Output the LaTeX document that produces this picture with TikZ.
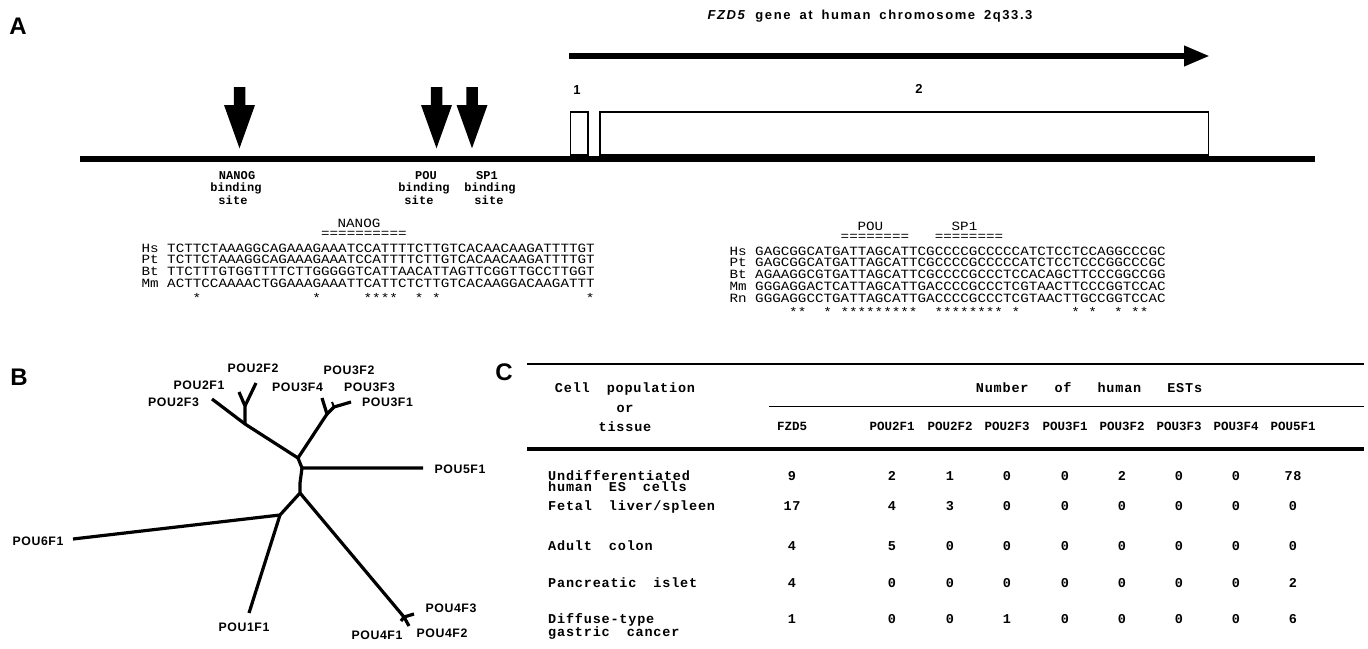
\documentclass[tikz,border=0pt]{standalone}
\usepackage{fontspec}
\usetikzlibrary{arrows.meta}
\setmainfont{Liberation Sans}
\newfontfamily\titlef[LetterSpace=12]{Liberation Sans}
\newfontfamily\treef[LetterSpace=5]{Liberation Sans}
\newfontfamily\seqf[FakeStretch=1.131]{Liberation Mono}
\newfontfamily\tabf[LetterSpace=6]{Liberation Mono}
\newfontfamily\tabhf{Liberation Mono}
\newfontfamily\bindf[LetterSpace=1]{Liberation Mono}
\newcommand\wsp{\hspace{17pt}}
\newcommand\wspb{\hspace{26pt}}
\newcommand\tsp{\hspace{9pt}}
\newcommand\barrow[1]{\fill[shift={(#1,0)}] (-5.75,87) -- (5.75,87) -- (5.75,105) -- (15.5,105) -- (0,148.3) -- (-15.5,105) -- (-5.75,105) -- cycle;}
\tikzset{
  panel/.style={font=\bfseries\fontsize{24}{24}\selectfont, inner sep=0pt},
  ttl/.style={font=\titlef\bfseries\fontsize{13}{14}\selectfont, inner sep=0pt},
  exlbl/.style={font=\bfseries\fontsize{13}{14}\selectfont, inner sep=0pt},
  exon/.style={draw, line width=1.4pt, fill=white, inner sep=0pt},
  seq/.style={font=\seqf\fontsize{12.6}{13}\selectfont, inner sep=0pt, anchor=base west},
  seqc/.style={font=\seqf\fontsize{12.6}{13}\selectfont, inner sep=0pt, anchor=base},
  bind/.style={font=\bindf\bfseries\fontsize{12}{12}\selectfont, inner sep=0pt, anchor=base},
  tree/.style={line width=3.2pt, line join=round},
  tlab/.style={font=\treef\bfseries\fontsize{12.3}{13}\selectfont, inner sep=0pt},
  tab/.style={font=\tabf\bfseries\fontsize{13.5}{14}\selectfont, inner sep=0pt},
  tabh/.style={font=\tabhf\bfseries\fontsize{12.5}{13}\selectfont, inner sep=0pt, anchor=base}
}
\begin{document}
\begin{tikzpicture}[x=1pt,y=-1pt]
\path[use as bounding box, fill=white] (0,0) rectangle (1368,648);

% ---------------- Panel A ----------------
\node[panel] (labA) at (18,26) {A};
\node[ttl] (title) at (870,16) {\textit{FZD5}\tsp gene\tsp at\tsp human\tsp chromosome\tsp 2q33.3};
\coordinate (arrS) at (569,56);
\coordinate (arrE) at (1210,56);
\draw[line width=6.5pt, -{Triangle[length=26pt,width=19pt]}] (arrS) -- (arrE);

\node[exon, minimum width=17.5pt, minimum height=43pt] (ex1) at (579.25,133.5) {};
\node[exon, minimum width=608.5pt, minimum height=43pt] (ex2) at (904.25,133.5) {};
\node[exlbl] (e1) at (577,90) {1};
\node[exlbl] (e2) at (919,89) {2};
\coordinate (gS) at (80,158.5);
\coordinate (gE) at (1315,158.5);
\draw[line width=6pt] (gS) -- (gE);

\barrow{239.5}
\barrow{436.5}
\barrow{472}

\node[bind] (nb1) at (237,179) {NANOG};
\node[bind] (nb2) at (236,191.5) {binding};
\node[bind] (nb3) at (233,204) {site};
\node[bind] (pb1) at (426,179) {POU};
\node[bind] (pb2) at (424,191.5) {binding};
\node[bind] (pb3) at (419,204) {site};
\node[bind] (sb1) at (487,179) {SP1};
\node[bind] (sb2) at (490,191.5) {binding};
\node[bind] (sb3) at (489,204) {site};

% left alignment (x0 = 167, w = 8.55)
\node[seqc] (nanogL) at (359,227.5) {NANOG};
\node[seq] (nanogEq) at (320.9,237.8) {==========};
\node[seq] (spL1) at (141.35,252.2) {Hs};
\node[seq] (spL2) at (141.35,263.9) {Pt};
\node[seq] (spL3) at (141.35,275.6) {Bt};
\node[seq] (spL4) at (141.35,287.3) {Mm};
\node[seq] (sqL1) at (167,252.2) {TCTTCTAAAGGCAGAAAGAAATCCATTTTCTTGTCACAACAAGATTTTGT};
\node[seq] (sqL2) at (167,263.9) {TCTTCTAAAGGCAGAAAGAAATCCATTTTCTTGTCACAACAAGATTTTGT};
\node[seq] (sqL3) at (167,275.6) {TTCTTTGTGGTTTTCTTGGGGGTCATTAACATTAGTTCGGTTGCCTTGGT};
\node[seq] (sqL4) at (167,287.3) {ACTTCCAAAACTGGAAAGAAATTCATTCTCTTGTCACAAGGACAAGATTT};
\foreach \c in {4,18,24,25,26,27,30,32,50}
  \node[seqc] (stL\c) at ({167+(\c-0.5)*8.55},302) {*};

% right alignment (x0 = 755)
\node[seqc] (pouR) at (870.4,230.2) {POU};
\node[seqc] (sp1R) at (964.5,230.2) {SP1};
\node[seq] (pouEq) at (840.5,240.3) {========};
\node[seq] (sp1Eq) at (934.55,240.3) {========};
\node[seq] (spR1) at (729.35,255.2) {Hs};
\node[seq] (spR2) at (729.35,266.9) {Pt};
\node[seq] (spR3) at (729.35,278.6) {Bt};
\node[seq] (spR4) at (729.35,290.3) {Mm};
\node[seq] (spR5) at (729.35,302.0) {Rn};
\node[seq] (sqR1) at (755,255.2) {GAGCGGCATGATTAGCATTCGCCCCGCCCCCATCTCCTCCAGGCCCGC};
\node[seq] (sqR2) at (755,266.9) {GAGCGGCATGATTAGCATTCGCCCCGCCCCCATCTCCTCCCGGCCCGC};
\node[seq] (sqR3) at (755,278.6) {AGAAGGCGTGATTAGCATTCGCCCCGCCCTCCACAGCTTCCCGGCCGG};
\node[seq] (sqR4) at (755,290.3) {GGGAGGACTCATTAGCATTGACCCCGCCCTCGTAACTTCCCGGTCCAC};
\node[seq] (sqR5) at (755,302.0) {GGGAGGCCTGATTAGCATTGACCCCGCCCTCGTAACTTGCCGGTCCAC};
\foreach \c in {5,6,9,11,12,13,14,15,16,17,18,19,22,23,24,25,26,27,28,29,31,38,40,43,45,46}
  \node[seqc] (stR\c) at ({755+(\c-0.5)*8.55},316.5) {*};

% ---------------- Panel B ----------------
\node[panel] (labB) at (19,377) {B};
\coordinate (U) at (298,458);
\coordinate (U5) at (302,468);
\coordinate (M) at (300,483);
\coordinate (L) at (300,493);
\coordinate (N2) at (245,424);
\coordinate (n2a) at (245,406);
\coordinate (t2F1) at (239,392);
\coordinate (t2F2) at (256,383);
\coordinate (t2F3) at (212,399);
\coordinate (N3) at (327,414);
\coordinate (t3F4) at (322,398);
\coordinate (n3b) at (334,407);
\coordinate (t3F1) at (351,402);
\coordinate (t3F3) at (332,402);
\coordinate (t5) at (423,468);
\coordinate (N6) at (280,515);
\coordinate (t6) at (73,539);
\coordinate (t1) at (249,613);
\coordinate (N4) at (404,617);
\coordinate (t4F3) at (414,614);
\coordinate (t4F1) at (401,621);
\coordinate (t4F2) at (409,626);
\draw[tree] (t2F3) -- (N2) -- (U) -- (N3) -- (t3F4);
\draw[tree] (N2) -- (n2a) -- (t2F1);
\draw[tree] (n2a) -- (t2F2);
\draw[tree] (N3) -- (n3b) -- (t3F1);
\draw[tree, line width=2pt] (n3b) -- (t3F3);
\draw[tree] (U) -- (U5) -- (t5);
\draw[tree] (U5) -- (M) -- (L) -- (N6) -- (t6);
\draw[tree] (N6) -- (t1);
\draw[tree] (L) -- (N4) -- (t4F3);
\draw[tree] (N4) -- (t4F1);
\draw[tree] (N4) -- (t4F2);

\node[tlab] (lPOU2F2) at (253,368) {POU2F2};
\node[tlab] (lPOU2F1) at (199,385) {POU2F1};
\node[tlab] (lPOU2F3) at (173.5,402) {POU2F3};
\node[tlab] (lPOU3F2) at (349,370) {POU3F2};
\node[tlab] (lPOU3F4) at (297.5,387) {POU3F4};
\node[tlab] (lPOU3F3) at (369.5,387) {POU3F3};
\node[tlab] (lPOU3F1) at (387.5,402) {POU3F1};
\node[tlab] (lPOU5F1) at (460,469) {POU5F1};
\node[tlab] (lPOU6F1) at (38,541) {POU6F1};
\node[tlab] (lPOU1F1) at (244,627) {POU1F1};
\node[tlab] (lPOU4F3) at (451,608) {POU4F3};
\node[tlab] (lPOU4F1) at (377,635) {POU4F1};
\node[tlab] (lPOU4F2) at (442,633) {POU4F2};

% ---------------- Panel C ----------------
\node[panel] (labC) at (504,372) {C};
\coordinate (r1S) at (527,364);  \coordinate (r1E) at (1364,364);
\coordinate (r2S) at (769,406.5); \coordinate (r2E) at (1364,406.5);
\coordinate (r3S) at (527,449);  \coordinate (r3E) at (1364,449);
\draw[line width=2pt] (r1S) -- (r1E);
\draw[line width=1.8pt] (r2S) -- (r2E);
\draw[line width=3.5pt] (r3S) -- (r3E);

\node[tab, anchor=base] (hCell) at (625,392.4) {Cell\wsp population};
\node[tab, anchor=base] (hOr) at (625,412) {or};
\node[tab, anchor=base] (hTis) at (625,431) {tissue};
\node[tab, anchor=base] (hNum) at (1089,392.4) {Number\wspb of\wspb human\wspb ESTs};
\foreach \x/\h [count=\i] in {792/FZD5,892/POU2F1,950/POU2F2,1007/POU2F3,1065/POU3F1,1122/POU3F2,1179/POU3F3,1236/POU3F4,1293/POU5F1}
  \node[tabh] (hc\i) at (\x,430.6) {\h};

\node[tab, anchor=base west] (rowA1) at (548,480.4) {Undifferentiated};
\node[tab, anchor=base west] (rowA2) at (548,491.6) {human\wsp ES\wsp cells};
\node[tab, anchor=base west] (rowB) at (548,510.4) {Fetal\wsp liver/spleen};
\node[tab, anchor=base west] (rowC) at (548,550.4) {Adult\wsp colon};
\node[tab, anchor=base west] (rowD) at (548,587.4) {Pancreatic\wsp islet};
\node[tab, anchor=base west] (rowE1) at (548,623.4) {Diffuse-type};
\node[tab, anchor=base west] (rowE2) at (548,636.6) {gastric\wsp cancer};

\foreach \x/\v [count=\i] in {792/9,892/2,950/1,1007/0,1065/0,1122/2,1179/0,1236/0,1293/78}
  \node[tab, anchor=base] (va\i) at (\x,480.4) {\v};
\foreach \x/\v [count=\i] in {792/17,892/4,950/3,1007/0,1065/0,1122/0,1179/0,1236/0,1293/0}
  \node[tab, anchor=base] (vb\i) at (\x,510.4) {\v};
\foreach \x/\v [count=\i] in {792/4,892/5,950/0,1007/0,1065/0,1122/0,1179/0,1236/0,1293/0}
  \node[tab, anchor=base] (vc\i) at (\x,550.4) {\v};
\foreach \x/\v [count=\i] in {792/4,892/0,950/0,1007/0,1065/0,1122/0,1179/0,1236/0,1293/2}
  \node[tab, anchor=base] (vd\i) at (\x,587.4) {\v};
\foreach \x/\v [count=\i] in {792/1,892/0,950/0,1007/1,1065/0,1122/0,1179/0,1236/0,1293/6}
  \node[tab, anchor=base] (ve\i) at (\x,623.4) {\v};
\end{tikzpicture}
\end{document}
